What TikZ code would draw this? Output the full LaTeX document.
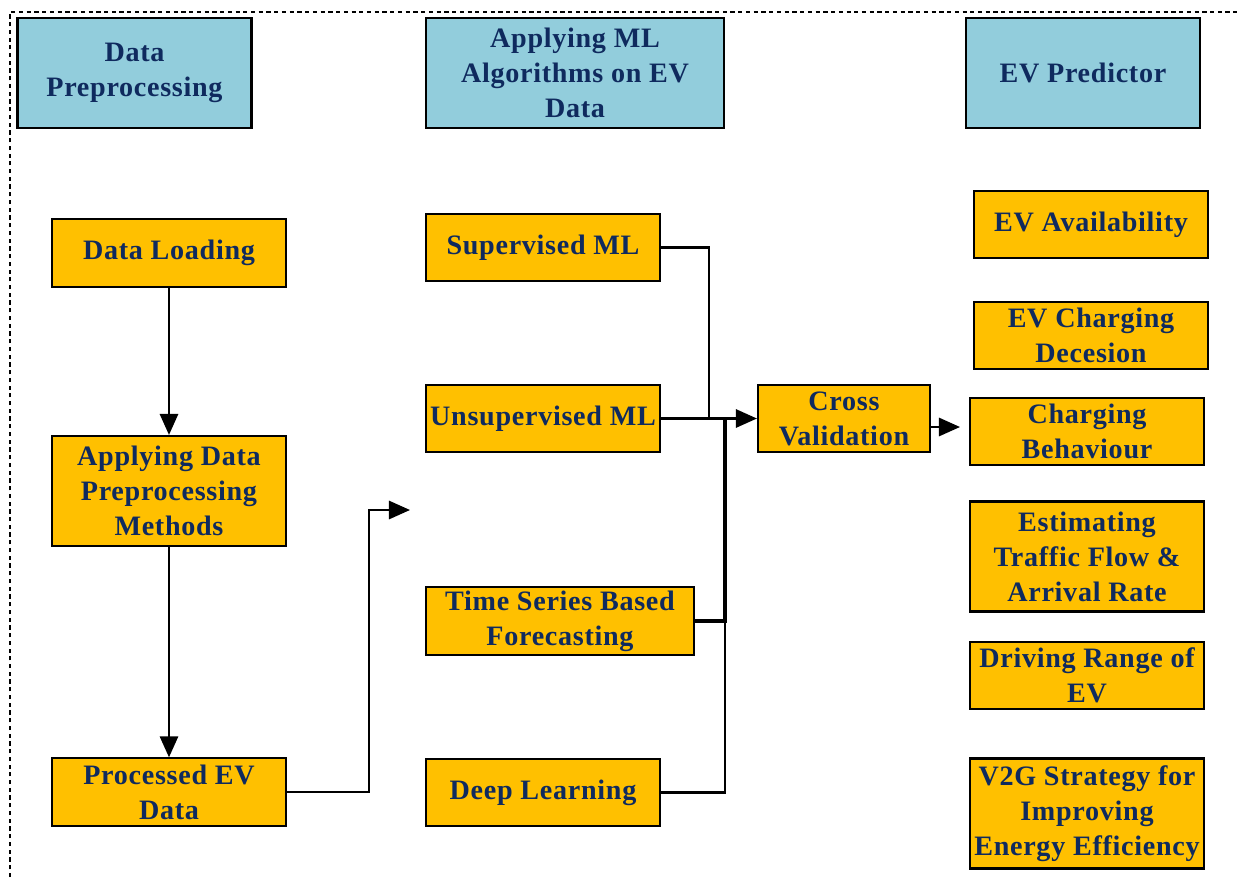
\documentclass[tikz,border=0pt]{standalone}
\usepackage{fontspec}
\setmainfont[LetterSpace=2.5]{Liberation Serif}
\usepackage{xcolor}
\usetikzlibrary{positioning,arrows.meta}

\definecolor{hdrblue}{HTML}{92CDDC}
\definecolor{boxorange}{HTML}{FFC000}
\definecolor{txtnavy}{HTML}{0F2A5E}

\begin{document}
\begin{tikzpicture}[x=0.025cm, y=-0.025cm,
  every node/.style={font=\fontsize{20}{24.9}\selectfont\bfseries, text=txtnavy},
  box/.style={draw=black, line width=1.5pt, inner sep=1pt, align=center, minimum width=5.85cm, minimum height=1.68cm},
  header/.style={box, fill=hdrblue, minimum height=2.75cm},
  stage/.style={box, fill=boxorange},
  tallstage/.style={stage, minimum height=2.75cm},
  link/.style={draw=black, line width=1.6pt},
  arrow/.style={link, -{Triangle[length=15pt, width=13pt]}}]
  \useasboundingbox (0,0) rectangle (1237,877);

  % dashed frame
  \draw[line width=1.6pt, dash pattern=on 3pt off 2.5pt] (10,877) -- (10,12) -- (1237,12);

  % column headers
  \node[header] (hprep) at (134.5,73) {Data\\Preprocessing};
  \node[header, minimum width=7.45cm] (hml) at (575,73) {Applying ML\\Algorithms on EV\\Data};
  \node[header] (hpred) at (1083,73) {EV Predictor};

  % preprocessing column
  \node[stage] (load) at (169,253) {Data Loading};
  \node[tallstage] (methods) at (169,491) {Applying Data\\Preprocessing\\Methods};
  \node[stage] (processed) at (169,792) {Processed EV\\Data};

  % ML column
  \node[stage] (sup) at (543,247.5) {Supervised ML};
  \node[stage] (unsup) at (543,418.5) {Unsupervised ML};
  \node[stage, minimum width=6.7cm] (tseries) at (560,621) {Time Series Based\\Forecasting};
  \node[stage] (deep) at (543,792.5) {Deep Learning};
  \node[stage, minimum width=4.3cm] (cross) at (844,418.5) {Cross\\Validation};

  % predictor column
  \node[stage] (avail) at (1091,224.5) {EV Availability};
  \node[stage] (decision) at (1091,335.5) {EV Charging\\Decesion};
  \node[stage] (behave) at (1087,431.5) {Charging\\Behaviour};
  \node[tallstage] (traffic) at (1087,556.5) {Estimating\\Traffic Flow \&\\Arrival Rate};
  \node[stage] (range) at (1087,675.5) {Driving Range of\\EV};
  \node[tallstage] (vtog) at (1087,813.5) {V2G Strategy for\\Improving\\Energy Efficiency};

  % free ends and joints
  \coordinate (mlin) at (410,510);
  \coordinate (supjoin) at (709,418);
  \coordinate (tsjoin) at (725,621);
  \coordinate (cvout) at (960,427);

  % connectors
  \draw[arrow] (load) -- (methods);
  \draw[arrow] (methods) -- (processed);
  \draw[arrow] (processed.east) -- ++(82,0) |- (mlin);
  \draw[link] (sup.east) -| (supjoin);
  \draw[arrow] (unsup.east) -- (cross.west);
  \draw[link, line width=2.2pt] (tseries.east) -| (unsup.east -| tsjoin);
  \draw[link] (deep.east) -| (tsjoin);
  \draw[arrow] (cross.east |- cvout) -- (cvout);
\end{tikzpicture}
\end{document}
